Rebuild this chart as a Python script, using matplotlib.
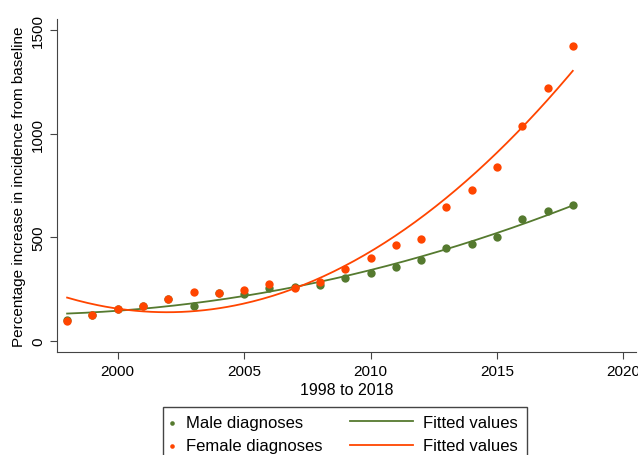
import numpy as np
import matplotlib
matplotlib.use("Agg")
import matplotlib.pyplot as plt
from matplotlib.patches import Rectangle

plt.rcParams['font.family'] = ['Liberation Sans', 'DejaVu Sans']

# percentage increase in incidence
years = list(range(1998, 2019))
male = [100, 124, 153, 170, 201, 170, 233, 228, 254, 262, 269,
        304, 327, 355, 391, 447, 466, 503, 587, 626, 658]
female = [98, 124, 153, 170, 201, 235, 233, 246, 275, 256, 286,
          347, 400, 462, 492, 645, 727, 839, 1036, 1222, 1422]

green = "#557a2f"
orange = "#ff4500"

x = np.array(years)
grid = np.linspace(1998, 2018, 200)
fit_m = np.polyval(np.polyfit(x, male, 2), grid)
fit_f = np.polyval(np.polyfit(x, female, 2), grid)

W, H = 638, 456
fig = plt.figure(figsize=(W/100, H/100), dpi=100)
ax = fig.add_axes([57/W, 1-353/H, (636-57)/W, (353-20)/H])

h1 = ax.scatter(years, male, s=36, color=green, zorder=2, linewidths=0)
l1, = ax.plot(grid, fit_m, color=green, lw=1.3, zorder=3)
h2 = ax.scatter(years, female, s=36, color=orange, zorder=4, linewidths=0)
l2, = ax.plot(grid, fit_f, color=orange, lw=1.3, zorder=5)

ax.set_xlim(1997.6, 2020.5)
ax.set_ylim(-53, 1553)
ax.set_xticks([2000, 2005, 2010, 2015, 2020])
ax.set_yticks([0, 500, 1000, 1500])
for s in ['top', 'right']:
    ax.spines[s].set_visible(False)
for s in ['left', 'bottom']:
    ax.spines[s].set_color("#444444")
ax.tick_params(labelsize=11, length=5, color="#444444")
plt.setp(ax.get_yticklabels(), rotation=90, va='center')
ax.set_xlabel("1998 to 2018", fontsize=11.5, labelpad=3)
ax.set_ylabel("Percentage increase in incidence from baseline", fontsize=11, labelpad=4)

# Stata-like legend: two columns, box running off the bottom edge
common = dict(loc='upper left', fontsize=12, frameon=False, borderpad=0,
              labelspacing=0.5, handletextpad=0.6, borderaxespad=0)
leg1 = fig.legend([h1, h2], ["Male diagnoses", "Female diagnoses"],
                  bbox_to_anchor=(168/W, 1-416/H), handlelength=0.5,
                  markerscale=0.55, **common)
leg2 = fig.legend([l1, l2], ["Fitted values", "Fitted values"],
                  bbox_to_anchor=(350/W, 1-416/H), handlelength=3.8, **common)
fig.patches.append(Rectangle((163/W, -0.05), (527-163)/W, 0.05 + 1-407.5/H,
                             transform=fig.transFigure, fill=False,
                             edgecolor="#444444", lw=1.0))

fig.savefig("out.png", dpi=100)
